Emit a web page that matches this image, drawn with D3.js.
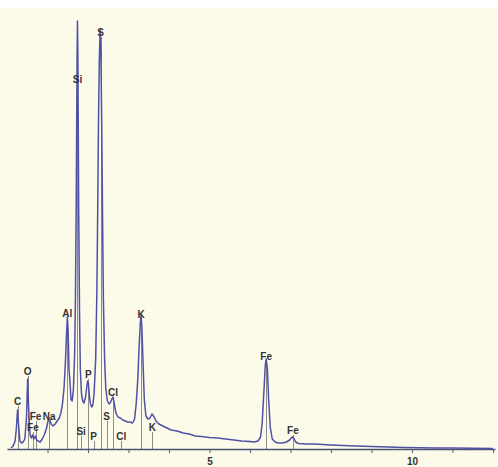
<!DOCTYPE html>
<html>
<head>
<meta charset="utf-8">
<script src="https://cdn.jsdelivr.net/npm/d3@7"></script>
<style>
  html, body { margin: 0; padding: 0; background: #ffffff; }
  svg { display: block; }
</style>
</head>
<body>
<svg id="chart" width="498" height="467"></svg>
<script>
// ---- Spectrum data (energy keV, counts) ----
const energy = [
  0.10,0.15,0.20,0.23,0.26,0.29,0.32,0.36,0.40,0.44,0.48,0.51,0.54,0.57,0.60,0.63,0.66,0.70,0.73,0.77,
  0.82,0.87,0.92,0.97,1.02,1.05,1.09,1.14,1.19,1.24,1.29,1.33,1.37,1.41,1.44,1.47,1.49,1.51,1.53,1.55,
  1.58,1.61,1.64,1.67,1.69,1.71,1.72,1.73,1.74,1.75,1.76,1.77,1.79,1.81,1.84,1.87,1.90,1.94,1.97,1.99,
  2.01,2.03,2.06,2.09,2.12,2.15,2.19,2.22,2.24,2.26,2.28,2.30,2.32,2.34,2.36,2.38,2.41,2.44,2.48,2.52,
  2.56,2.60,2.62,2.65,2.69,2.74,2.80,2.86,2.92,2.98,3.04,3.10,3.15,3.19,3.23,3.26,3.29,3.31,3.33,3.36,
  3.39,3.43,3.48,3.53,3.58,3.62,3.68,3.75,3.85,3.95,4.05,4.20,4.35,4.50,4.65,4.80,5.00,5.20,5.40,5.60,
  5.80,6.00,6.10,6.20,6.26,6.30,6.34,6.38,6.40,6.43,6.46,6.50,6.55,6.62,6.70,6.80,6.90,6.98,7.04,7.08,
  7.13,7.20,7.40,7.60,7.80,8.00,8.30,8.60,9.00,9.40,9.80,10.2,10.6,11.0,11.5,12.0
];
const counts = [
  10,30,80,200,390,220,80,60,70,100,300,700,350,140,110,140,100,130,90,80,
  70,100,140,200,290,300,250,230,250,280,310,360,450,620,850,1150,1320,1180,800,700,
  500,480,600,950,1500,2500,3200,3900,4280,3950,3200,2400,1400,800,550,480,460,520,620,680,
  660,550,450,420,440,550,900,1600,2400,3300,3900,4190,3950,3200,2300,1500,900,600,480,450,
  470,510,520,450,360,320,310,290,280,270,270,260,300,450,700,1000,1250,1340,1220,850,
  500,330,300,310,350,330,280,250,230,210,190,180,160,150,130,125,115,110,100,90,
  80,75,70,80,120,250,550,850,900,800,500,220,100,70,60,60,70,90,120,110,
  70,55,50,50,45,40,35,30,25,20,15,12,10,10,8,6
];

// ---- Peak marker annotations ----
const markerLabel  = ["C","O","Fe","Fe","Na","Al","Si","P","S","Cl","K","Fe","Fe","Si","P","S","Cl","K"];
const markerEnergy = [0.26,0.51,0.64,0.705,1.04,1.49,1.74,2.01,2.31,2.62,3.31,6.40,7.06,1.83,2.14,2.46,2.82,3.59];
const markerCounts = [430,730,170,280,280,1310,3650,700,4120,520,1300,880,140,130,80,280,80,170];

// ---- Axis ticks ----
const tickValues = [1,2,3,4,5,6,7,8,9,10,11,12];
const tickLabels = {5: "5", 10: "10"};

const svg = d3.select("#chart");
const W = 498, H = 467;

svg.append("rect").attr("x", 0).attr("y", 0).attr("width", W).attr("height", H).attr("fill", "#ffffff");
svg.append("rect").attr("x", 0).attr("y", 8).attr("width", W).attr("height", H - 8).attr("fill", "#fcfbea");

const x = d3.scaleLinear().domain([0, 12.05]).range([7, 495]);
const y = d3.scaleLinear().domain([0, 4410]).range([449, 8]);

// marker lines
const markers = markerLabel.map((l, i) => ({label: l, e: markerEnergy[i], c: markerCounts[i]}));
svg.append("g").selectAll("line").data(markers).join("line")
  .attr("x1", d => Math.round(x(d.e)) + 0.5).attr("x2", d => Math.round(x(d.e)) + 0.5)
  .attr("y1", y(0)).attr("y2", d => y(d.c))
  .attr("stroke", "#8c8c8c").attr("stroke-width", 1);

// axis
const axis = d3.axisBottom(x).tickValues(tickValues).tickSize(4).tickSizeOuter(0)
  .tickFormat(d => tickLabels[d] || "");
const gAxis = svg.append("g").attr("transform", `translate(0,${y(0)})`).call(axis);
gAxis.select(".domain").attr("stroke", "#4e5274").attr("stroke-width", 1.5);
gAxis.selectAll(".tick line").attr("stroke", "#555a70");
gAxis.selectAll(".tick text").attr("fill", "#333").attr("font-family", "Liberation Sans, Arial, sans-serif")
  .attr("font-size", 10).attr("font-weight", "bold").attr("y", 6).attr("dy", "0.95em");

// spectrum
const pts = energy.map((e, i) => [e, counts[i]]);
const line = d3.line().x(d => x(d[0])).y(d => y(d[1]));
svg.append("path").datum(pts).attr("d", line)
  .attr("fill", "none").attr("stroke", "#5050a6").attr("stroke-width", 1.5)
  .attr("stroke-linejoin", "round");

// labels
svg.append("g").selectAll("text").data(markers).join("text")
  .attr("x", d => x(d.e)).attr("y", d => y(d.c) - 1)
  .attr("text-anchor", "middle")
  .attr("font-family", "Liberation Sans, Arial, sans-serif")
  .attr("font-size", 10).attr("font-weight", "bold").attr("fill", "#333")
  .text(d => d.label);
</script>
</body>
</html>
